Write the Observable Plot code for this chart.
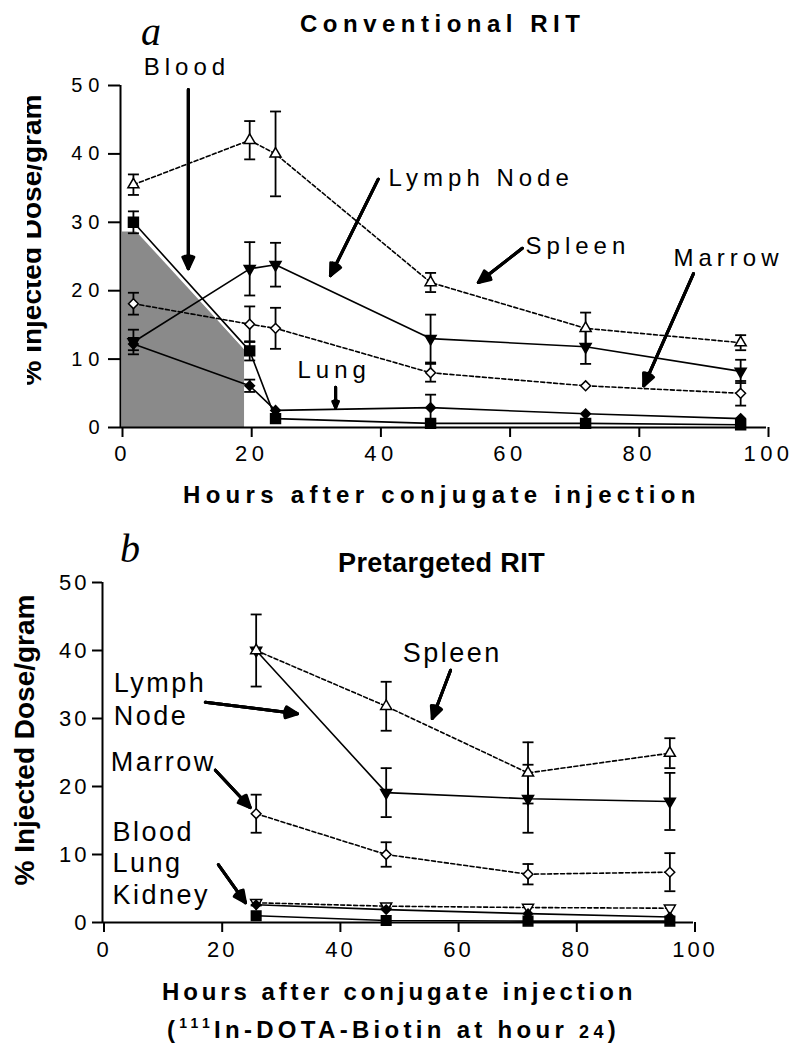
<!DOCTYPE html>
<html><head><meta charset="utf-8">
<script src="https://cdn.jsdelivr.net/npm/d3@7"></script>
<script src="https://cdn.jsdelivr.net/npm/@observablehq/plot@0.6"></script>
<style>
body{margin:0;background:#fff;}
#root{position:relative;width:800px;height:1058px;overflow:hidden;font-family:"Liberation Sans",Arial,sans-serif;color:#000;background:#fff;}
.t{position:absolute;white-space:nowrap;line-height:1;}
.pl{position:absolute;left:0;}
#plotA{top:0px} #plotB{top:500px}
#plotA g[aria-label="text"] text{letter-spacing:5px}
#plotB g[aria-label="text"] text{letter-spacing:2.5px}
#plotA g[aria-label="y-axis tick label"] text{letter-spacing:6px;font-size:20px}
#plotA g[aria-label="x-axis tick label"] text{letter-spacing:4.5px;font-size:22px}
#plotB g[aria-label="y-axis tick label"] text{letter-spacing:3px;font-size:22px}
#plotB g[aria-label="x-axis tick label"] text{letter-spacing:3px;font-size:22px}
</style>
</head><body>
<div id="root"></div>
<script>
// ---------- Panel a: Conventional RIT ----------
const hoursA = [2, 20, 24, 48, 72, 96];
const spleenA = [35.5, 42.0, 40.0, 21.2, 14.5, 12.4];
const spleenAErr = [1.5, 2.8, 6.2, 1.4, 2.3, 1.1];
const lymphA = [12.5, 23.2, 23.8, 13.0, 11.8, 8.2];
const lymphAErr = [1.8, 3.9, 3.2, 3.5, 2.5, 1.7];
const marrowA = [18.1, 15.1, 14.5, 8.0, 6.1, 5.0];
const marrowAErr = [1.6, 2.6, 3.0, 1.3, 0, 1.8];
const lungA = [12.2, 6.1, 2.5, 2.9, 2.0, 1.3];
const lungAErr = [0.9, 0.9, 0, 1.9, 0, 0];
const bloodA = [30.0, 11.2, 1.3, 0.6, 0.6, 0.4];
const bloodAErr = [1.6, 1.4, 0, 0, 0, 0];
// shaded region under the early blood curve
const shadeX = [0.3, 2.5, 19.2];
const shadeY = [28.6, 28.6, 11.4];
// annotations (data coordinates)
const annotALabels = ["Blood", "Lymph Node", "Spleen", "Marrow", "Lung"];
const annotAX = [3.6, 41.5, 62.7, 85.6, 27.4];
const annotAY = [52.6, 36.5, 26.5, 24.7, 8.3];
const arrowAX1 = [10.5, 39.9, 62.2, 88.7, 33.3];
const arrowAY1 = [49.4, 36.3, 26.2, 22.5, 5.9];
const arrowAX2 = [10.5, 32.5, 55.4, 81.0, 33.3];
const arrowAY2 = [23.2, 22.2, 21.2, 6.1, 2.9];

// ---------- Panel b: Pretargeted RIT ----------
const hoursB = [26, 48, 72, 96];
const spleenB = [40.0, 31.8, 22.0, 24.9];
const spleenBErr = [5.3, 3.6, 4.5, 2.2];
const lymphB = [40.0, 19.1, 18.2, 17.8];
const lymphBErr = [0, 3.6, 5.0, 4.2];
const marrowB = [16.0, 10.0, 7.1, 7.4];
const marrowBErr = [2.8, 1.8, 1.5, 2.8];
const kidneyB = [2.9, 2.4, 2.2, 2.1];
const kidneyBErr = [0.4, 0.3, 0, 0];
const lungB = [2.6, 1.9, 1.3, 0.8];
const lungBErr = [0, 0, 0, 0];
const bloodB = [1.0, 0.3, 0.2, 0.2];
const bloodBErr = [0, 0, 0, 0];
const annotBLabels = ["Spleen", "Lymph", "Node", "Marrow", "Blood", "Lung", "Kidney"];
const annotBX = [50.8, 1.9, 1.9, 1.4, 1.7, 1.7, 1.7];
const annotBY = [39.6, 35.1, 30.3, 23.5, 13.2, 8.7, 4.0];
const arrowBX1 = [58.9, 17.4, 19.1, 19.6];
const arrowBY1 = [37.1, 32.4, 22.4, 8.5];
const arrowBX2 = [55.8, 33.0, 25.0, 24.2];
const arrowBY2 = [30.0, 30.7, 16.9, 2.9];

const yTicks = [0, 10, 20, 30, 40, 50];
const xTicks = [0, 20, 40, 60, 80, 100];

// ---------- helpers ----------
const rows = (xs, ys, errs) => xs.map((x, i) => ({x, y: ys[i], err: errs[i]}));
const capSymbol = {draw(ctx) { ctx.moveTo(-5.5, 0); ctx.lineTo(5.5, 0); }};

function seriesLine(data, dashed) {
  return Plot.line(data, {x: "x", y: "y", stroke: "black", strokeWidth: 1.6,
    strokeDasharray: dashed ? "4,2.5" : null});
}
function errorBars(data) {
  const e = data.filter(d => d.err > 0);
  return [
    Plot.ruleX(e, {x: "x", y1: d => d.y - d.err, y2: d => d.y + d.err, stroke: "black", strokeWidth: 1.8}),
    Plot.dot(e, {x: "x", y: d => d.y + d.err, symbol: capSymbol, stroke: "black", strokeWidth: 1.8, fill: "none"}),
    Plot.dot(e, {x: "x", y: d => d.y - d.err, symbol: capSymbol, stroke: "black", strokeWidth: 1.8, fill: "none"})
  ];
}
function markers(data, symbol, filled, r, rotate = 0) {
  return Plot.dot(data, {x: "x", y: "y", symbol, r, rotate,
    fill: filled ? "black" : "white", stroke: "black", strokeWidth: 1.5});
}
function arrows(x1, y1, x2, y2) {
  const data = x1.map((v, i) => ({x1: v, y1: y1[i], x2: x2[i], y2: y2[i]}));
  return [50, 34, 18].map(a => Plot.arrow(data, {x1: "x1", y1: "y1", x2: "x2", y2: "y2",
    stroke: "black", strokeWidth: 3, headLength: 6.5, headAngle: a}));
}
const labelRows = (labels, xs, ys) => labels.map((t, i) => ({t, x: xs[i], y: ys[i]}));

// ---------- Panel a plot ----------
const sA = rows(hoursA, spleenA, spleenAErr);
const lA = rows(hoursA, lymphA, lymphAErr);
const mA = rows(hoursA, marrowA, marrowAErr);
const luA = rows(hoursA, lungA, lungAErr);
const bA = rows(hoursA, bloodA, bloodAErr);
const shade = shadeX.map((x, i) => ({x, y: shadeY[i]}));

const plotA = Plot.plot({
  width: 800, height: 470,
  marginTop: 85, marginBottom: 43, marginLeft: 120, marginRight: 34,
  x: {domain: [0, 100]}, y: {domain: [0, 50]},
  style: {fontFamily: "'Liberation Sans', Arial, sans-serif", fontSize: "20px", background: "transparent", overflow: "visible", color: "black"},
  marks: [
    Plot.areaY(shade, {x: "x", y: "y", fill: "#8a8a8a"}),
    Plot.line(bA.slice(0, 2), {x: "x", y: "y", stroke: "white", strokeWidth: 6}),
    seriesLine(sA, true), seriesLine(lA, false), seriesLine(mA, true), seriesLine(luA, false), seriesLine(bA, false),
    ...errorBars(sA), ...errorBars(lA), ...errorBars(mA), ...errorBars(luA), ...errorBars(bA),
    markers(bA, "square", true, 5.6),
    markers(luA, "diamond2", true, 4.3),
    markers(lA, "triangle", true, 4.1, 180),
    markers(mA, "diamond2", false, 4.4),
    markers(sA, "triangle", false, 4.1),
    Plot.ruleX([0], {stroke: "black", strokeWidth: 2}),
    Plot.ruleY([0], {stroke: "black", strokeWidth: 2}),
    Plot.axisY({ticks: yTicks, tickSize: 12, tickPadding: 3, strokeWidth: 2, fontSize: 20, label: null, dx: 0}),
    Plot.axisX({ticks: xTicks, tickSize: 10, tickPadding: 8, strokeWidth: 2, fontSize: 22, label: null, dx: 2}),
    ...arrows(arrowAX1, arrowAY1, arrowAX2, arrowAY2),
    Plot.text(labelRows(annotALabels, annotAX, annotAY), {x: "x", y: "y", text: "t", textAnchor: "start", lineAnchor: "middle", fontSize: 24, fill: "black"})
  ]
});
plotA.id = "plotA"; plotA.classList.add("pl");

// ---------- Panel b plot ----------
const sB = rows(hoursB, spleenB, spleenBErr);
const lB = rows(hoursB, lymphB, lymphBErr);
const mB = rows(hoursB, marrowB, marrowBErr);
const kB = rows(hoursB, kidneyB, kidneyBErr);
const luB = rows(hoursB, lungB, lungBErr);
const bB = rows(hoursB, bloodB, bloodBErr);

const plotB = Plot.plot({
  width: 800, height: 460,
  marginTop: 82, marginBottom: 38, marginLeft: 102, marginRight: 107,
  x: {domain: [0, 100]}, y: {domain: [0, 50]},
  style: {fontFamily: "'Liberation Sans', Arial, sans-serif", fontSize: "20px", background: "transparent", overflow: "visible", color: "black"},
  marks: [
    seriesLine(sB, true), seriesLine(lB, false), seriesLine(mB, true), seriesLine(kB, true), seriesLine(luB, false), seriesLine(bB, false),
    ...errorBars(sB), ...errorBars(lB), ...errorBars(mB), ...errorBars(kB),
    markers(bB, "square", true, 5.4),
    markers(lB, "triangle", true, 4.1, 180),
    markers(kB, "triangle", false, 4.1, 180),
    markers(luB, "diamond2", true, 4.1),
    markers(mB, "diamond2", false, 4.4),
    markers(sB, "triangle", false, 4.1),
    Plot.ruleX([0], {stroke: "black", strokeWidth: 2}),
    Plot.ruleY([0], {stroke: "black", strokeWidth: 2}),
    Plot.axisY({ticks: yTicks, tickSize: 10, tickPadding: 3, strokeWidth: 2, fontSize: 22, label: null, dx: 0}),
    Plot.axisX({ticks: xTicks, tickSize: 10, tickPadding: 9, strokeWidth: 2, fontSize: 22, label: null, dx: 1.5}),
    ...arrows(arrowBX1, arrowBY1, arrowBX2, arrowBY2),
    Plot.text(labelRows(annotBLabels, annotBX, annotBY), {x: "x", y: "y", text: "t", textAnchor: "start", lineAnchor: "middle", fontSize: 27, fill: "black"})
  ]
});
plotB.id = "plotB"; plotB.classList.add("pl");

const root = document.getElementById("root");
root.appendChild(plotA);
root.appendChild(plotB);

// ---------- HTML texts ----------
function addText(html, o) {
  const d = document.createElement("div");
  d.className = "t";
  d.innerHTML = html;
  const asc = o.serif ? 0.8375 : 0.8465;
  d.style.left = o.left + "px";
  d.style.top = (o.baseline - asc * o.size) + "px";
  d.style.fontSize = o.size + "px";
  d.style.fontWeight = o.weight || "normal";
  d.style.letterSpacing = (o.spacing || 0) + "px";
  if (o.serif) { d.style.fontFamily = "'Liberation Serif', 'Times New Roman', serif"; d.style.fontStyle = "italic"; }
  (o.parent || root).appendChild(d);
  return d;
}
addText("a", {left: 141, baseline: 45, size: 40, serif: true});
addText("Conventional RIT", {left: 300, baseline: 32, size: 24, weight: "bold", spacing: 5.5});
addText("Hours after conjugate injection", {left: 183, baseline: 503, size: 24, weight: "bold", spacing: 5.3});
addText("b", {left: 120, baseline: 562, size: 40, serif: true});
addText("Pretargeted RIT", {left: 338, baseline: 573, size: 27, weight: "bold", spacing: 0.4});
addText("Hours after conjugate injection", {left: 162, baseline: 1000, size: 24, weight: "bold", spacing: 3.9});
addText('(<span style="font-size:14px;position:relative;top:-10px">111</span>In-DOTA-Biotin at hour <span style="font-size:18px">24</span>)',
  {left: 167, baseline: 1038, size: 24, weight: "bold", spacing: 4.3});

function addYLabel(cx, cy, parent, offsetX) {
  const d = document.createElement("div");
  d.className = "t";
  d.textContent = "% Injected Dose/gram";
  d.style.fontSize = "28px";
  d.style.fontWeight = "bold";
  d.style.left = (cx - offsetX) + "px";
  d.style.top = cy + "px";
  d.style.transform = "translate(-50%,-50%) rotate(-90deg)";
  parent.appendChild(d);
}
// panel a's axis title is cropped along its top edge in the reference figure
const clipA = document.createElement("div");
clipA.style.cssText = "position:absolute;left:27px;top:0;width:60px;height:480px;overflow:hidden;";
root.appendChild(clipA);
addYLabel(32.3, 240, clipA, 27);
addYLabel(25.3, 740, root, 0);
</script>
</body></html>
